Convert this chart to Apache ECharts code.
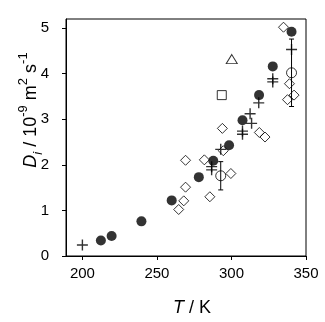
<!DOCTYPE html>
<html>
<head>
<meta charset="utf-8">
<script src="https://cdn.jsdelivr.net/npm/echarts@6/dist/echarts.min.js"></script>
<style>
html,body{margin:0;padding:0;background:#fff;}
#chart{width:325px;height:322px;}
</style>
</head>
<body>
<div id="chart"></div>
<script>
// data: [T / K, D / 1e-9 m2 s-1]
var filledCircles = [[212.4,0.34],[219.6,0.44],[239.6,0.76],[259.9,1.22],[278.1,1.73],[287.8,2.09],[298.4,2.43],[307.4,2.98],[318.5,3.53],[327.7,4.16],[340.3,4.92]];
var plusPoints = [[200,0.24],[286.7,1.96],[286.7,1.89],[292.8,2.34],[307.4,2.74],[307.4,2.67],[312.5,3.12],[313.5,2.91],[318.3,3.36],[327.7,3.89],[327.7,3.82],[340.3,4.53]];
var openCircles = [[292.8,1.76],[340.3,4.02]];
var openCircleErr = [0.31,0.74];
var diamonds = [[334.9,5.02],[338.9,3.78],[337.6,3.43],[342.0,3.53],[293.9,2.80],[318.7,2.71],[322.5,2.61],[281.8,2.11],[269.2,2.10],[294.5,2.31],[299.6,1.81],[285.5,1.30],[269.2,1.51],[268.0,1.21],[264.6,1.02]];
var triangles = [[300.2,4.32]];
var squares = [[293.5,3.53]];
var xTicks = [200,250,300,350];
var yTicks = [0,1,2,3,4,5];

var errData = openCircles.map(function(p, i){
	return [p[0], p[1] - openCircleErr[i], p[1] + openCircleErr[i]];
});

var chart = echarts.init(document.getElementById('chart'));
var font = 'Liberation Sans, Arial, sans-serif';
var openStyle = {color: 'rgba(0,0,0,0)', borderColor: '#000', borderWidth: 1};

var option = {
	animation: false,
	grid: {
		left: 66, right: 19, top: 19, bottom: 65,
		show: true, borderColor: '#000', borderWidth: 1
	},
	xAxis: {
		type: 'value', min: 189, max: 350,
		name: '{it|T}{n| / K}', nameLocation: 'middle', nameGap: 43,
		nameTextStyle: {color: '#000', padding: [0,0,0,12],
			rich: {
				it: {fontSize: 18, fontStyle: 'italic', fontFamily: font, color: '#000'},
				n: {fontSize: 18, fontFamily: font, color: '#000'}
			}},
		axisLine: {lineStyle: {color: '#000', width: 1}},
		axisTick: {length: 4, lineStyle: {color: '#000'}, customValues: xTicks},
		axisLabel: {color: '#000', fontSize: 15, fontFamily: font, margin: 10, customValues: xTicks},
		splitLine: {show: false}
	},
	yAxis: {
		type: 'value', min: 0, max: 5.2,
		axisLine: {show: true, lineStyle: {color: '#000', width: 1}},
		axisTick: {show: true, length: 4, lineStyle: {color: '#000'}, customValues: yTicks},
		axisLabel: {color: '#000', fontSize: 15, fontFamily: font, margin: 17, customValues: yTicks},
		splitLine: {show: false}
	},
	graphic: [{
		type: 'text',
		x: 31, y: 110,
		rotation: Math.PI / 2,
		style: {
			text: '{it|D}{sub|i}{n| / 10}{sup|-9}{n| m}{sup|2}{n| s}{sup|-1}',
			align: 'center', verticalAlign: 'middle',
			fill: '#000',
			rich: {
				it: {fontSize: 18, fontStyle: 'italic', fontFamily: font, lineHeight: 28, verticalAlign: 'middle'},
				n: {fontSize: 18, fontFamily: font, lineHeight: 28, verticalAlign: 'middle'},
				sup: {fontSize: 13, fontFamily: font, lineHeight: 28, verticalAlign: 'top'},
				sub: {fontSize: 13, fontStyle: 'italic', fontFamily: font, lineHeight: 28, verticalAlign: 'bottom'}
			}
		}
	}],
	series: [
		{
			name: 'diamond', type: 'scatter', data: diamonds,
			symbol: 'diamond', symbolSize: 10, itemStyle: openStyle, z: 2
		},
		{
			name: 'square', type: 'scatter', data: squares,
			symbol: 'rect', symbolSize: 9, itemStyle: openStyle, z: 2
		},
		{
			name: 'triangle', type: 'scatter', data: triangles,
			symbol: 'triangle', symbolSize: [11, 9], itemStyle: openStyle, z: 2
		},
		{
			name: 'err', type: 'custom', data: errData, z: 3,
			renderItem: function(params, api){
				var lo = api.coord([api.value(0), api.value(1)]);
				var hi = api.coord([api.value(0), api.value(2)]);
				var st = {stroke: '#000', lineWidth: 1};
				return {
					type: 'group',
					children: [
						{type: 'line', shape: {x1: lo[0], y1: lo[1], x2: hi[0], y2: hi[1]}, style: st},
						{type: 'line', shape: {x1: lo[0]-2.5, y1: lo[1], x2: lo[0]+2.5, y2: lo[1]}, style: st},
						{type: 'line', shape: {x1: hi[0]-2.5, y1: hi[1], x2: hi[0]+2.5, y2: hi[1]}, style: st}
					]
				};
			}
		},
		{
			name: 'plus', type: 'scatter', data: plusPoints,
			symbol: 'path://M0,5L10,5M5,0L5,10', symbolSize: 11,
			itemStyle: {color: 'rgba(0,0,0,0)', borderColor: '#000', borderWidth: 1.4}, z: 4
		},
		{
			name: 'open', type: 'scatter', data: openCircles,
			symbol: 'circle', symbolSize: 10,
			itemStyle: {color: 'rgba(255,255,255,0)', borderColor: '#000', borderWidth: 1}, z: 4
		},
		{
			name: 'filled', type: 'scatter', data: filledCircles,
			symbol: 'circle', symbolSize: 10,
			itemStyle: {color: '#000'}, z: 5
		}
	]
};
chart.setOption(option);
</script>
</body>
</html>
